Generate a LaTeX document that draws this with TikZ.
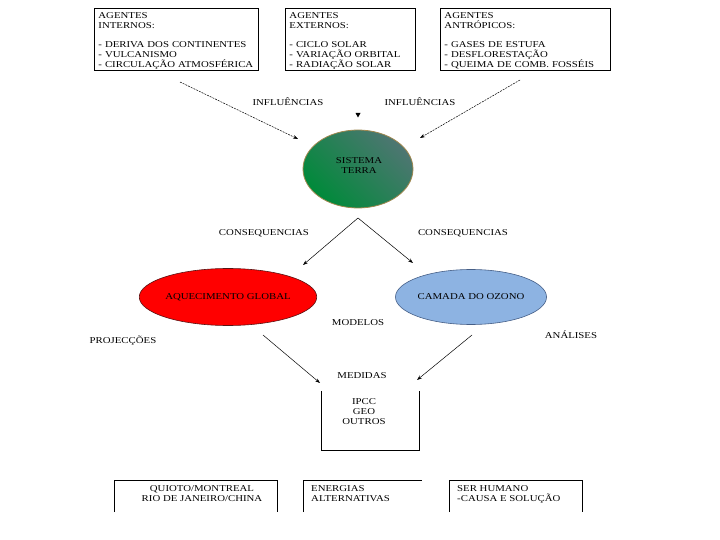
\documentclass[tikz,border=0pt]{standalone}
\usepackage{fontspec}
\setmainfont{Liberation Serif}[FakeStretch=1.2]
\usetikzlibrary{shapes.geometric,arrows.meta}
\definecolor{terraA}{RGB}{0,138,58}
\definecolor{terraB}{RGB}{78,118,114}
\definecolor{terraline}{RGB}{160,136,80}
\definecolor{ozono}{RGB}{141,179,226}
\definecolor{ozonoline}{RGB}{70,95,135}
\definecolor{redline}{RGB}{90,20,20}
\begin{document}
\begin{tikzpicture}[x=1pt,y=-1pt,
  every node/.style={font=\fontsize{9}{10}\selectfont, inner sep=0pt},
  agbox/.style={draw, line width=0.9pt, anchor=north west, minimum height=62, align=left, inner xsep=4pt},
  lbl/.style={text height=6pt, text depth=0pt},
  conn/.style={line width=0.5pt, -{Stealth[length=5pt,width=3.5pt]}},
  dconn/.style={conn, dash pattern=on 2pt off 1pt},
  openbox/.style={line width=0.8pt},
]
\useasboundingbox (0,0) rectangle (720,540);

% top boxes
\node[agbox, text width=156pt] (b1) at (94,8) {\rule{0pt}{9pt}AGENTES\\INTERNOS:\\[9.5pt]- DERIVA DOS CONTINENTES\\- VULCANISMO\\- CIRCULAÇÃO ATMOSFÉRICA};
\node[agbox, text width=122pt] (b2) at (285,8) {\rule{0pt}{9pt}AGENTES\\EXTERNOS:\\[9.5pt]- CICLO SOLAR\\- VARIAÇÃO ORBITAL\\- RADIAÇÃO SOLAR};
\node[agbox, text width=162pt] (b3) at (440,8) {\rule{0pt}{9pt}AGENTES\\ANTRÓPICOS:\\[9.5pt]- GASES DE ESTUFA\\- DESFLORESTAÇÃO\\- QUEIMA DE COMB. FOSSÉIS};

% influences
\coordinate (i1s) at (180,82);
\coordinate (i1e) at (298,139);
\coordinate (i2s) at (520,80);
\coordinate (i2e) at (420,138);
\draw[dconn] (i1s) -- (i1e);
\draw[dconn] (i2s) -- (i2e);
\node[lbl] (inf1) at (288,103) {INFLUÊNCIAS};
\node[lbl] (inf2) at (420,103) {INFLUÊNCIAS};
\fill (355.5,113) -- (360.5,113) -- (358,117.5) -- cycle;

% sistema terra
\node[ellipse, draw=terraline, line width=0.8pt, minimum width=110, minimum height=78,
  top color=terraB, bottom color=terraA, shading angle=-45] (terra) at (358,169) {};
\node[align=center] (terratxt) at (359,165.5) {SISTEMA\\TERRA};

% consequences
\coordinate (capex) at (358,218);
\coordinate (c1e) at (303,265);
\coordinate (c2e) at (413,263);
\draw[conn] (capex) -- (c1e);
\draw[conn] (capex) -- (c2e);
\node[lbl] (cons1) at (264,233) {CONSEQUENCIAS};
\node[lbl] (cons2) at (463,233) {CONSEQUENCIAS};

% ellipses
\node[ellipse, draw=redline, line width=0.6pt, fill=red, minimum width=165, minimum height=57] (aq) at (228,297) {AQUECIMENTO GLOBAL};
\node[ellipse, draw=ozonoline, line width=0.6pt, fill=ozono, minimum width=135, minimum height=55] (oz) at (471,297) {CAMADA DO OZONO};

\node[lbl] (mod) at (358,322) {MODELOS};
\node[lbl] (proj) at (123,340) {PROJECÇÕES};
\node[lbl] (anal) at (571,335) {ANÁLISES};

% medidas
\coordinate (m1s) at (263,335);
\coordinate (m1e) at (320,383);
\coordinate (m2s) at (472,335);
\coordinate (m2e) at (417,380);
\draw[conn] (m1s) -- (m1e);
\draw[conn] (m2s) -- (m2e);
\node[lbl] (med) at (362,375) {MEDIDAS};

\node[minimum width=97, minimum height=59] (ipcc) at (370.5,420.5) {};
\draw[openbox] (ipcc.north west) -- (ipcc.south west) -- (ipcc.south east) -- (ipcc.north east);
\node[align=center] (ipcctxt) at (364,412) {IPCC\\GEO\\OUTROS};

% bottom boxes
\draw[openbox] (114,512) -- (114,480) -- (277,480) -- (277,512);
\draw[openbox] (303,512) -- (303,480) -- (422,480);
\draw[openbox] (449,512) -- (449,480) -- (582,480) -- (582,512);
\node[align=center] (quioto) at (202,494) {QUIOTO/MONTREAL\\RIO DE JANEIRO/CHINA};
\node[align=left, anchor=west] (energ) at (311,494) {ENERGIAS\\ALTERNATIVAS};
\node[align=left, anchor=west] (ser) at (457,494) {SER HUMANO\\-CAUSA E SOLUÇÃO};
\end{tikzpicture}
\end{document}
